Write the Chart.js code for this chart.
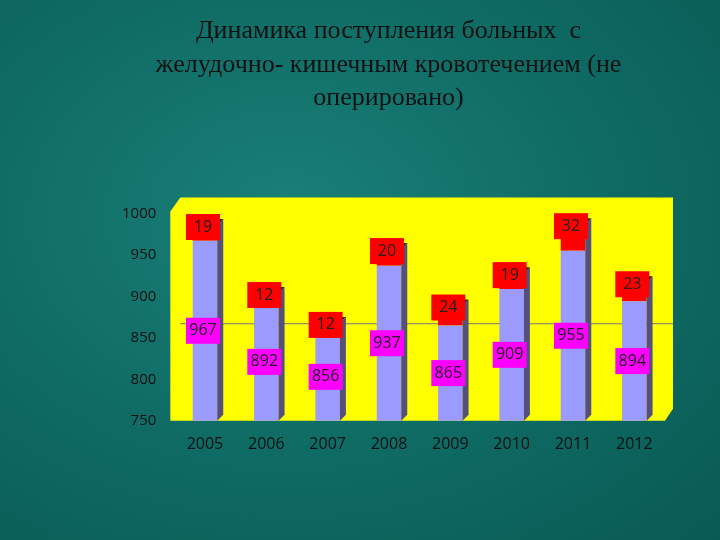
<!DOCTYPE html>
<html>
<head>
<meta charset="utf-8">
<script src="https://cdn.jsdelivr.net/npm/chart.js@4"></script>
<style>
  html, body { margin: 0; padding: 0; }
  body { width: 720px; height: 540px; background: radial-gradient(ellipse at 40% 40%, #1a8078 0%, #0e6a63 55%, #0a5a54 100%); }
  #wrap { width: 720px; height: 540px; }
</style>
</head>
<body>
<div id="wrap"><canvas id="dyn"></canvas></div>
<script>
// years and values
const years = ["2005", "2006", "2007", "2008", "2009", "2010", "2011", "2012"];
const baseVals = [967, 892, 856, 937, 865, 909, 955, 894];   // lavender part
const topVals = [19, 12, 12, 20, 24, 19, 32, 23];            // red cap
const refLine = 867;

// yellow plot area, 3d side faces, boxed labels and the reference line
const decor = {
  id: "decor",
  beforeDatasetsDraw(chart) {
    const { ctx, chartArea: a, scales } = chart;
    ctx.save();
    ctx.fillStyle = "#ffff00";
    ctx.beginPath();
    ctx.moveTo(a.left - 4, a.top - 2);
    ctx.lineTo(a.left + 6, a.top - 16);
    ctx.lineTo(a.right + 8, a.top - 16);
    ctx.lineTo(a.right + 8, a.bottom - 12);
    ctx.lineTo(a.right, a.bottom);
    ctx.lineTo(a.left - 4, a.bottom);
    ctx.closePath();
    ctx.fill();
    const y = scales.y.getPixelForValue(refLine);
    ctx.strokeStyle = "#777";
    ctx.lineWidth = 1;
    ctx.beginPath();
    ctx.moveTo(a.left + 6, y);
    ctx.lineTo(a.right + 8, y);
    ctx.stroke();
    ctx.restore();
  },
  afterDatasetsDraw(chart) {
    const { ctx, chartArea: a } = chart;
    ctx.save();
    const m0 = chart.getDatasetMeta(0).data;
    const m1 = chart.getDatasetMeta(1).data;
    m0.forEach((b, i) => {
      const t = m1[i];
      const w = b.width / 2;
      const base = Math.min(b.base, a.bottom);
      // side face
      ctx.fillStyle = "#55507a";
      ctx.beginPath();
      ctx.moveTo(b.x + w, t.y);
      ctx.lineTo(b.x + w + 6, t.y - 6);
      ctx.lineTo(b.x + w + 6, base - 6);
      ctx.lineTo(b.x + w, base);
      ctx.closePath();
      ctx.fill();
      ctx.fillStyle = "#222";
      ctx.beginPath();
      ctx.moveTo(b.x - w, t.y);
      ctx.lineTo(b.x - w + 6, t.y - 6);
      ctx.lineTo(b.x + w + 6, t.y - 6);
      ctx.lineTo(b.x + w, t.y);
      ctx.closePath();
      ctx.fill();
    });
    ctx.font = "16px 'Open Sans', sans-serif";
    ctx.textAlign = "center";
    ctx.textBaseline = "middle";
    const box = (x, y, txt, col) => {
      ctx.fillStyle = col;
      ctx.fillRect(x - 17, y - 13, 34, 26);
      ctx.fillStyle = "#222";
      ctx.fillText(txt, x, y);
    };
    m0.forEach((b, i) => {
      const base = Math.min(b.base, a.bottom);
      box(b.x - 2, (b.y + base) / 2, String(baseVals[i]), "#ff00ff");
      box(m1[i].x - 2, m1[i].y + 2, String(topVals[i]), "#ff0000");
    });
    ctx.restore();
  }
};

new Chart(document.getElementById("dyn"), {
  type: "bar",
  data: {
    labels: years,
    datasets: [
      { data: baseVals, backgroundColor: "#9b9bff", barPercentage: 0.4, categoryPercentage: 1 },
      { data: topVals, backgroundColor: "#ff0000", barPercentage: 0.4, categoryPercentage: 1 }
    ]
  },
  options: {
    responsive: true,
    maintainAspectRatio: false,
    animation: false,
    layout: { padding: { left: 112, right: 55, top: 14, bottom: 80 } },
    plugins: {
      legend: { display: false },
      tooltip: { enabled: false },
      title: {
        display: true,
        text: ["Динамика поступления больных  с", "желудочно- кишечным кровотечением (не", "оперировано)"],
        color: "#111",
        font: { family: "'Liberation Serif', serif", size: 26, weight: "normal", lineHeight: 1.3 },
        padding: { top: 0, bottom: 98 }
      }
    },
    scales: {
      x: {
        stacked: true,
        grid: { display: false },
        border: { display: false },
        ticks: { color: "#111", font: { family: "'Open Sans', sans-serif", size: 16 }, padding: 6 }
      },
      y: {
        stacked: true,
        min: 750, max: 1000,
        grid: { display: false },
        border: { display: false },
        ticks: { stepSize: 50, color: "#111", font: { family: "'Open Sans', sans-serif", size: 15 }, padding: 10,
                 callback: v => String(v) }
      }
    }
  },
  plugins: [decor]
});
</script>
</body>
</html>
